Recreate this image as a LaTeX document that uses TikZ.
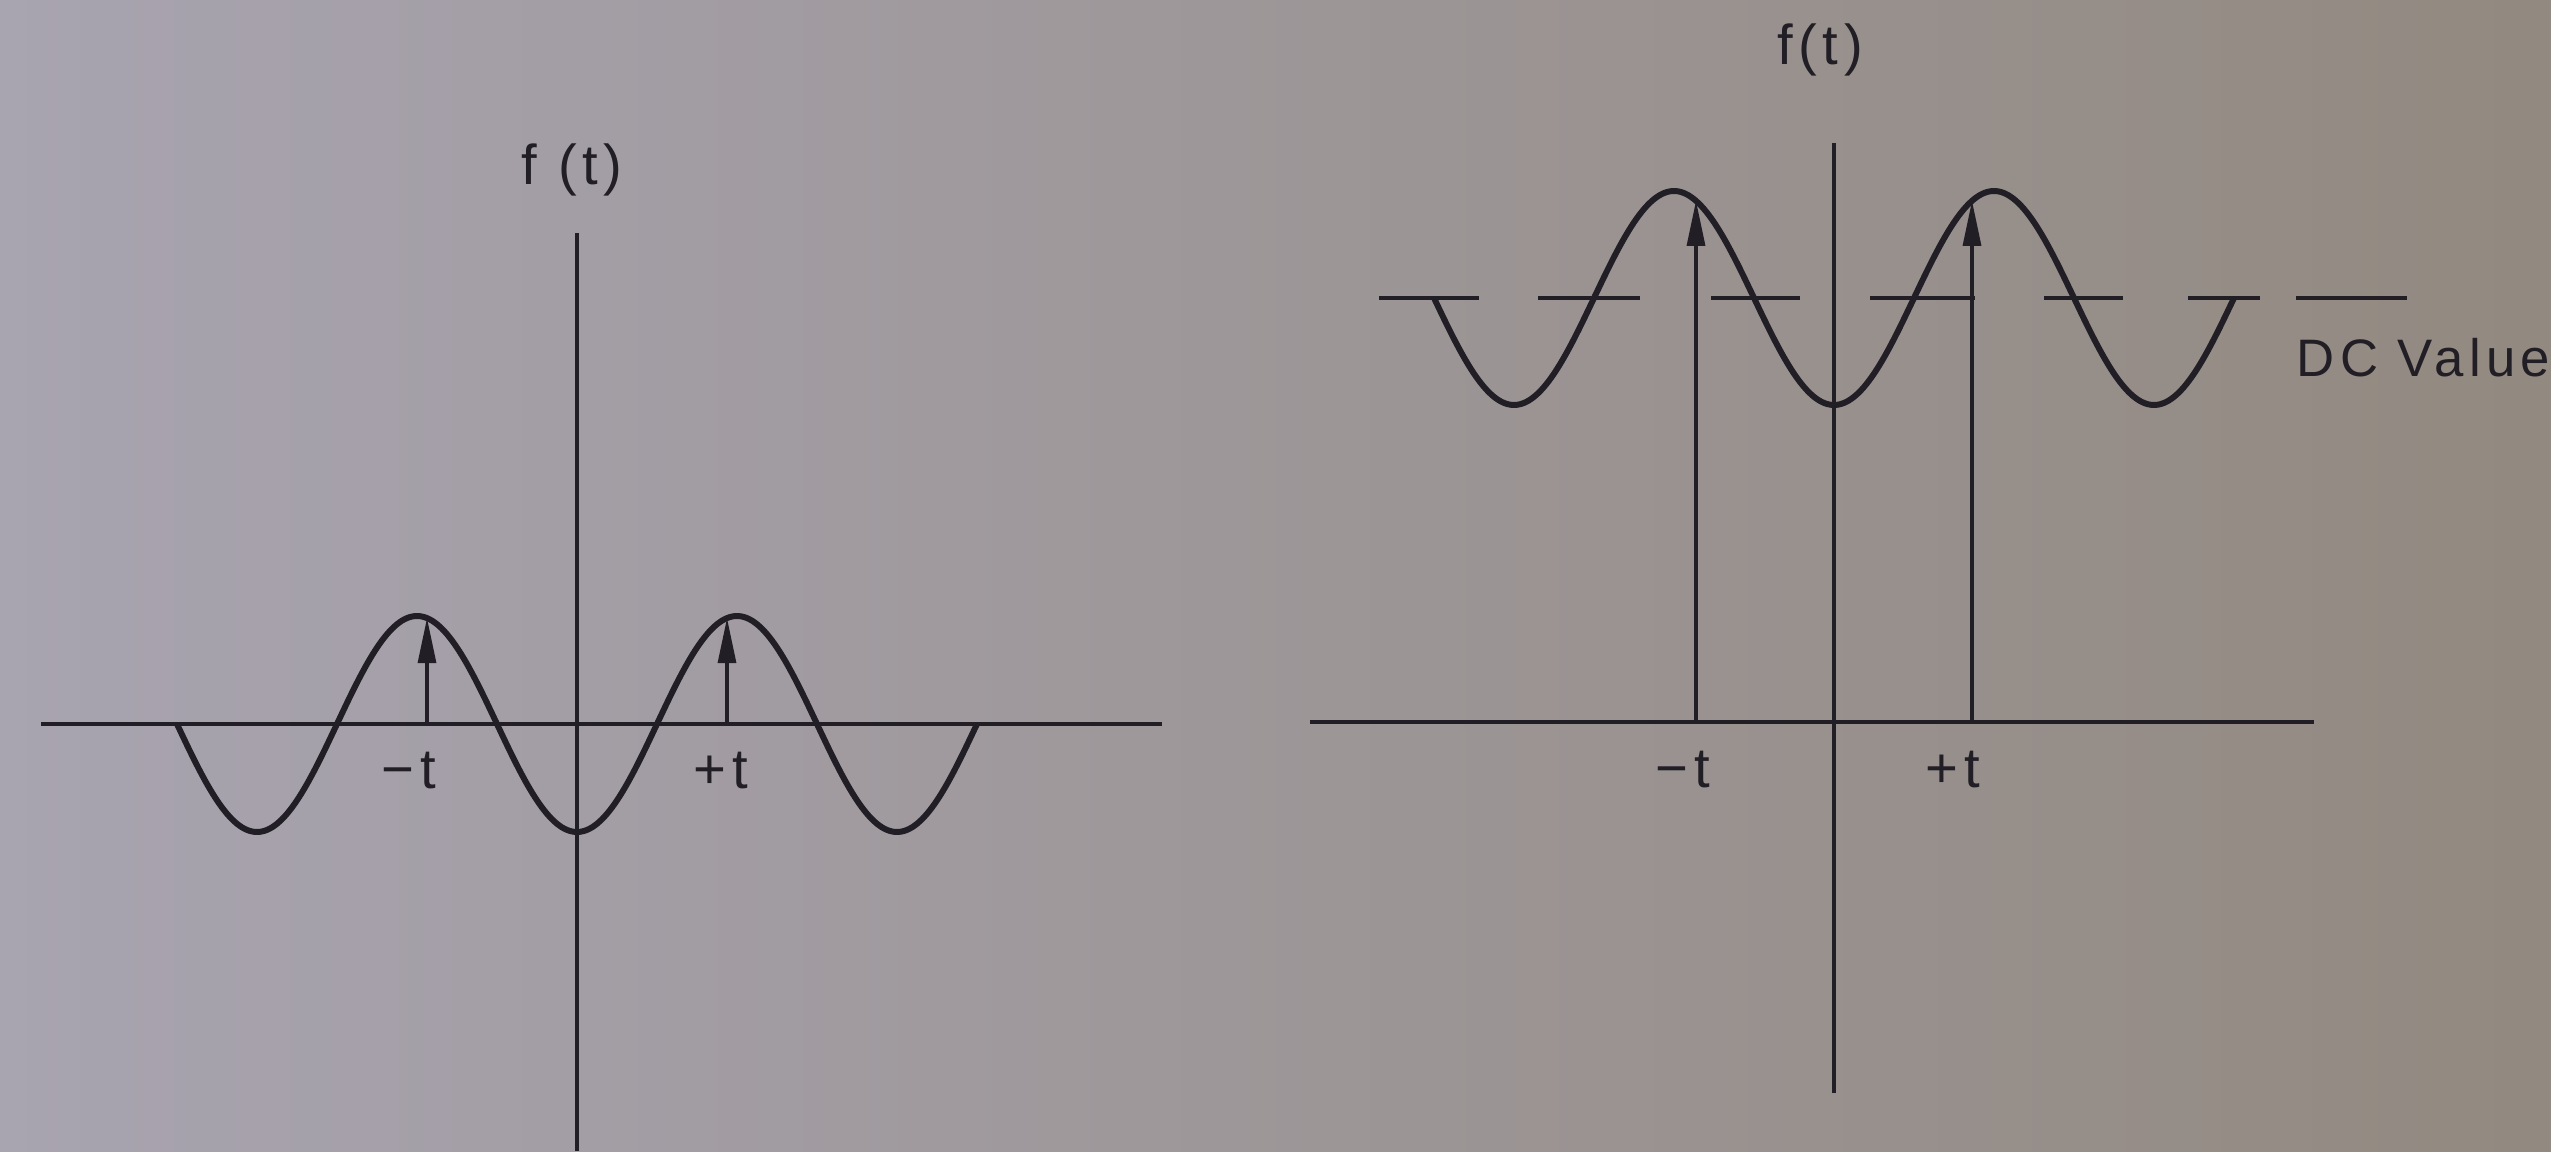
\documentclass[tikz,border=0pt]{standalone}
\usepackage{fontspec}
\setmainfont[LetterSpace=10]{Liberation Sans}
\usetikzlibrary{arrows.meta}

\definecolor{ink}{RGB}{34,30,38}
\definecolor{paperL}{RGB}{168,164,176}
\definecolor{paperM}{RGB}{158,152,160}
\definecolor{paperR}{RGB}{146,137,128}

\tikzset{
  axis/.style={draw=ink, line width=0.9pt},
  wave/.style={draw=ink, line width=1.7pt, line join=round},
  dcline/.style={draw=ink, line width=1.3pt},
  peak/.style={draw=ink, line width=0.9pt, -{Triangle[length=4.5mm,width=1.8mm]}},
  lbl/.style={font=\fontsize{16}{19}\selectfont, text=ink, inner sep=0pt},
}

\begin{document}
\begin{tikzpicture}
            % paper
            \shade[left color=paperL, middle color=paperM, right color=paperR] (0,0) rectangle (25.51,11.51);
            \useasboundingbox (0,0) rectangle (25.51,11.51);

            % left: wave about zero
            \begin{scope}[shift={(5.77,4.27)}]
            \coordinate (O) at (0,0);
            \coordinate (Ytop) at (0,4.91);
            \coordinate (Ybot) at (0,-4.27);
            \coordinate (Xl) at (-5.36,0);
            \coordinate (Xr) at (5.85,0);
            \coordinate (Fm) at (-1.5,0);
            \coordinate (Fp) at (1.5,0);
            \coordinate (Tm) at (-1.5,{-1.08*cos(360*1.5/3.2)});
            \coordinate (Tp) at (1.5,{-1.08*cos(360*1.5/3.2)});

            \draw[axis] (Ybot)--(Ytop);
            \draw[axis] (Xl)--(Xr);
            \draw[wave] plot[domain=-4:4, samples=161, smooth] (\x,{-1.08*cos(360*\x/3.2)});
            \draw[peak] (Fm)--(Tm);
            \draw[peak] (Fp)--(Tp);
            \node[lbl] (fl) at (-0.05,5.54) {f (t)};
            \node[lbl] (tml) at (-1.68,-0.47) {−t};
            \node[lbl] (tpl) at (1.44,-0.47) {+t};
            \end{scope}

            % right: same wave on a DC value
            \begin{scope}[shift={(18.34,4.29)}]
            \coordinate (O2) at (0,0);
            \coordinate (Ytop2) at (0,5.79);
            \coordinate (Ybot2) at (0,-3.71);
            \coordinate (Xl2) at (-5.24,0);
            \coordinate (Xr2) at (4.80,0);
            \coordinate (Fm2) at (-1.38,0);
            \coordinate (Fp2) at (1.38,0);
            \coordinate (Tm2) at (-1.38,{4.24-1.07*cos(360*1.38/3.2)});
            \coordinate (Tp2) at (1.38,{4.24-1.07*cos(360*1.38/3.2)});

            \draw[axis] (Ybot2)--(Ytop2);
            \draw[axis] (Xl2)--(Xr2);
            \foreach \a/\b in {-4.55/-3.55, -2.96/-1.94, -1.23/-0.34, 0.36/1.41, 2.10/2.89, 3.54/4.26, 4.62/5.73}
                \draw[dcline] (\a,4.24)--(\b,4.24);
            \draw[wave] plot[domain=-4:4, samples=161, smooth] (\x,{4.24-1.07*cos(360*\x/3.2)});
            \draw[peak] (Fm2)--(Tm2);
            \draw[peak] (Fp2)--(Tp2);
            \node[lbl] (fr) at (-0.14,6.72) {f(t)};
            \node[lbl] (tmr) at (-1.51,-0.48) {−t};
            \node[lbl] (tpr) at (1.19,-0.48) {+t};
            \node[lbl, anchor=west, font=\fontsize{15}{18}\selectfont] (dc) at (4.62,3.64) {DC Value};
            \end{scope}
        \end{tikzpicture}
\end{document}
